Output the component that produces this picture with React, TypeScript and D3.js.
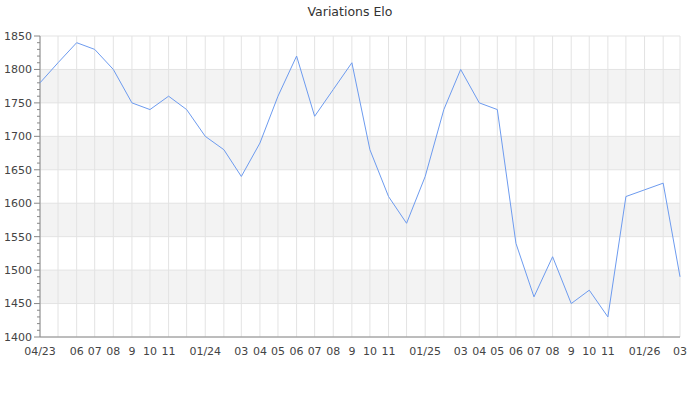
import React from "react"
import * as d3 from "d3"

// monthly elo values, 04/2023 -> 03/2026
const months = d3.timeMonths(new Date(2023, 3, 1), new Date(2026, 3, 1))
const elo = [
  1780, 1810, 1840, 1830, 1800, 1750, 1740, 1760, 1740,
  1700, 1680, 1640, 1690, 1760, 1820, 1730, 1770, 1810, 1680, 1610, 1570,
  1640, 1740, 1800, 1750, 1740, 1540, 1460, 1520, 1450, 1470, 1430, 1610,
  1620, 1630, 1490,
]
// labels shown under each month gridline ("" = hidden)
const monthLabels = [
  "04/23", "", "06", "07", "08", "9", "10", "11", "",
  "01/24", "", "03", "04", "05", "06", "07", "08", "9", "10", "11", "",
  "01/25", "", "03", "04", "05", "06", "07", "08", "9", "10", "11", "",
  "01/26", "", "03",
]
const yTicks = [1400, 1450, 1500, 1550, 1600, 1650, 1700, 1750, 1800, 1850]
const bands = [1450, 1550, 1650, 1750]

const W = 700
const H = 400
const margin = { left: 40, right: 20, top: 36, bottom: 63 }

export default function App() {
  const x = d3
    .scaleTime()
    .domain([months[0], months[months.length - 1]])
    .range([margin.left, W - margin.right])
  const y = d3
    .scaleLinear()
    .domain([1400, 1850])
    .range([H - margin.bottom, margin.top])

  const line = d3
    .line<number>()
    .x((d, i) => x(months[i]))
    .y((d) => y(d))

  const minor = d3.range(1400, 1851, 10).filter((v) => v % 50 !== 0)
  const font = "DejaVu Sans, sans-serif"

  return (
    <svg
      width={W}
      height={H}
      style={{ position: "absolute", left: 0, top: 0, background: "#fff" }}
      fontFamily={font}
    >
      <text x={W / 2} y={16} textAnchor="middle" fontSize={12.5} fill="#333">
        Variations Elo
      </text>

      {/* alternating bands */}
      {bands.map((b) => (
        <rect
          key={b}
          x={margin.left}
          y={y(b + 50)}
          width={W - margin.right - margin.left}
          height={y(b) - y(b + 50)}
          fill="#f3f3f3"
        />
      ))}

      {/* grid */}
      {yTicks.map((t) => (
        <line
          key={"h" + t}
          x1={margin.left}
          x2={W - margin.right}
          y1={y(t)}
          y2={y(t)}
          stroke="#e3e3e3"
        />
      ))}
      {months.map((m, i) => (
        <line
          key={"v" + i}
          x1={x(m)}
          x2={x(m)}
          y1={margin.top}
          y2={H - margin.bottom}
          stroke="#e3e3e3"
        />
      ))}

      {/* y axis */}
      <line
        x1={margin.left}
        x2={margin.left}
        y1={margin.top}
        y2={H - margin.bottom}
        stroke="#888"
      />
      {yTicks.map((t) => (
        <g key={"yt" + t}>
          <line x1={margin.left - 6} x2={margin.left} y1={y(t)} y2={y(t)} stroke="#888" />
          <text
            x={margin.left - 8}
            y={y(t)}
            dy="0.35em"
            textAnchor="end"
            fontSize={11}
            fill="#444"
          >
            {t}
          </text>
        </g>
      ))}
      {minor.map((t) => (
        <line key={"m" + t} x1={margin.left - 3} x2={margin.left} y1={y(t)} y2={y(t)} stroke="#888" />
      ))}

      {/* x axis */}
      <line
        x1={margin.left}
        x2={W - margin.right}
        y1={H - margin.bottom}
        y2={H - margin.bottom}
        stroke="#888"
      />
      {months.map((m, i) =>
        monthLabels[i] ? (
          <text
            key={"xl" + i}
            x={x(m)}
            y={H - margin.bottom + 18}
            textAnchor="middle"
            fontSize={11}
            fill="#444"
          >
            {monthLabels[i]}
          </text>
        ) : null
      )}

      <path d={line(elo) || ""} fill="none" stroke="#6d9bef" strokeWidth={1} />
    </svg>
  )
}
